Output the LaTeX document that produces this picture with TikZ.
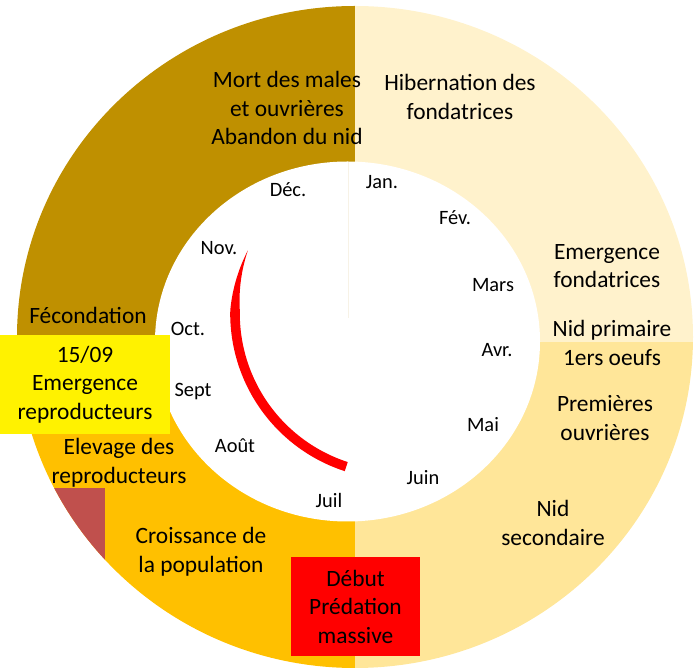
\documentclass[tikz,border=0pt]{standalone}
\usepackage{fontspec}
\setmainfont{Carlito}

\definecolor{brun}{HTML}{BF9000}
\definecolor{orangec}{HTML}{FFC000}
\definecolor{creme}{HTML}{FFF2CC}
\definecolor{jaunep}{HTML}{FFE699}
\definecolor{brique}{HTML}{C0504D}
\definecolor{trait}{HTML}{F7F2E6}

\tikzstyle{etape}= [align=center,inner sep=0pt,text=black,font=\fontsize{23.4}{28.5}\selectfont]
\tikzstyle{mois}= [inner sep=0pt,text=black,font=\fontsize{20.4}{24}\selectfont]
\tikzstyle{encadre}= [etape,rectangle,minimum width=170,minimum height=99]

\begin{document}
\begin{tikzpicture}[x=1pt,y=1pt,
  declare function={demi(\t)=4.8*min(1,(\t-157)/22);}]
		\useasboundingbox (0,0) rectangle (697,669);

		\begin{scope}
		\clip (355,332) ellipse [x radius=338, y radius=331];
		\fill[brun] (0,334) rectangle (354.5,669);
		\fill[orangec] (0,0) rectangle (354.5,334);
		\fill[creme] (354.5,327) rectangle (697,669);
		\fill[jaunep] (354.5,0) rectangle (697,327);
		\fill[brique] (52,0) rectangle (105,181);
		\end{scope}
		\fill[white] (347.5,327.5) ellipse [x radius=192.5, y radius=180];

		\coordinate (t1) at (348,507);
		\coordinate (t2) at (348,351);
		\draw[trait,line width=1] (t1) -- (t2);

		\fill[red] plot[domain=157:252,samples=80]
		  ({396+(161+demi(\x))*cos(\x)},{355.5+(161+demi(\x))*sin(\x)})
		  -- plot[domain=252:157,samples=80]
		  ({396+(161-demi(\x))*cos(\x)},{355.5+(161-demi(\x))*sin(\x)}) -- cycle;

		\node (mort) at (287,561) [etape] {Mort des males\\et ouvrières\\Abandon du nid};
		\node (hiber) at (460,572) [etape] {Hibernation des\\fondatrices};
		\node (emergf) at (607,403) [etape] {Emergence\\fondatrices};
		\node (nidp) at (612,326) [etape] {Nid primaire\\1ers oeufs};
		\node (premi) at (605,251) [etape] {Premières\\ouvrières};
		\node (nids) at (553,146) [etape] {Nid\\secondaire};
		\node (croiss) at (201,117) [etape] {Croissance de\\la population};
		\node (elev) at (119,206) [etape] {Elevage des\\reproducteurs};
		\node (fecond) at (88,354) [etape] {Fécondation};

		\node (repro) at (85,284.5) [encadre,fill=yellow] {15/09\\Emergence\\reproducteurs};
		\node (preda) at (355.5,62.5) [encadre,fill=red,minimum width=129] {Début\\Prédation\\massive};

		\node (jan) at (382,487) [mois] {Jan.};
		\node (fev) at (455,451) [mois] {Fév.};
		\node (mars) at (493,384) [mois] {Mars};
		\node (avr) at (497,319) [mois] {Avr.};
		\node (mai) at (483,244) [mois] {Mai};
		\node (juin) at (423,191) [mois] {Juin};
		\node (juil) at (329,169) [mois] {Juil};
		\node (aout) at (235,223) [mois] {Août};
		\node (sept) at (193,277) [mois] {Sept};
		\node (oct) at (188,340) [mois] {Oct.};
		\node (nov) at (219,421) [mois] {Nov.};
		\node (dec) at (288,479) [mois] {Déc.};

	\end{tikzpicture}
\end{document}
